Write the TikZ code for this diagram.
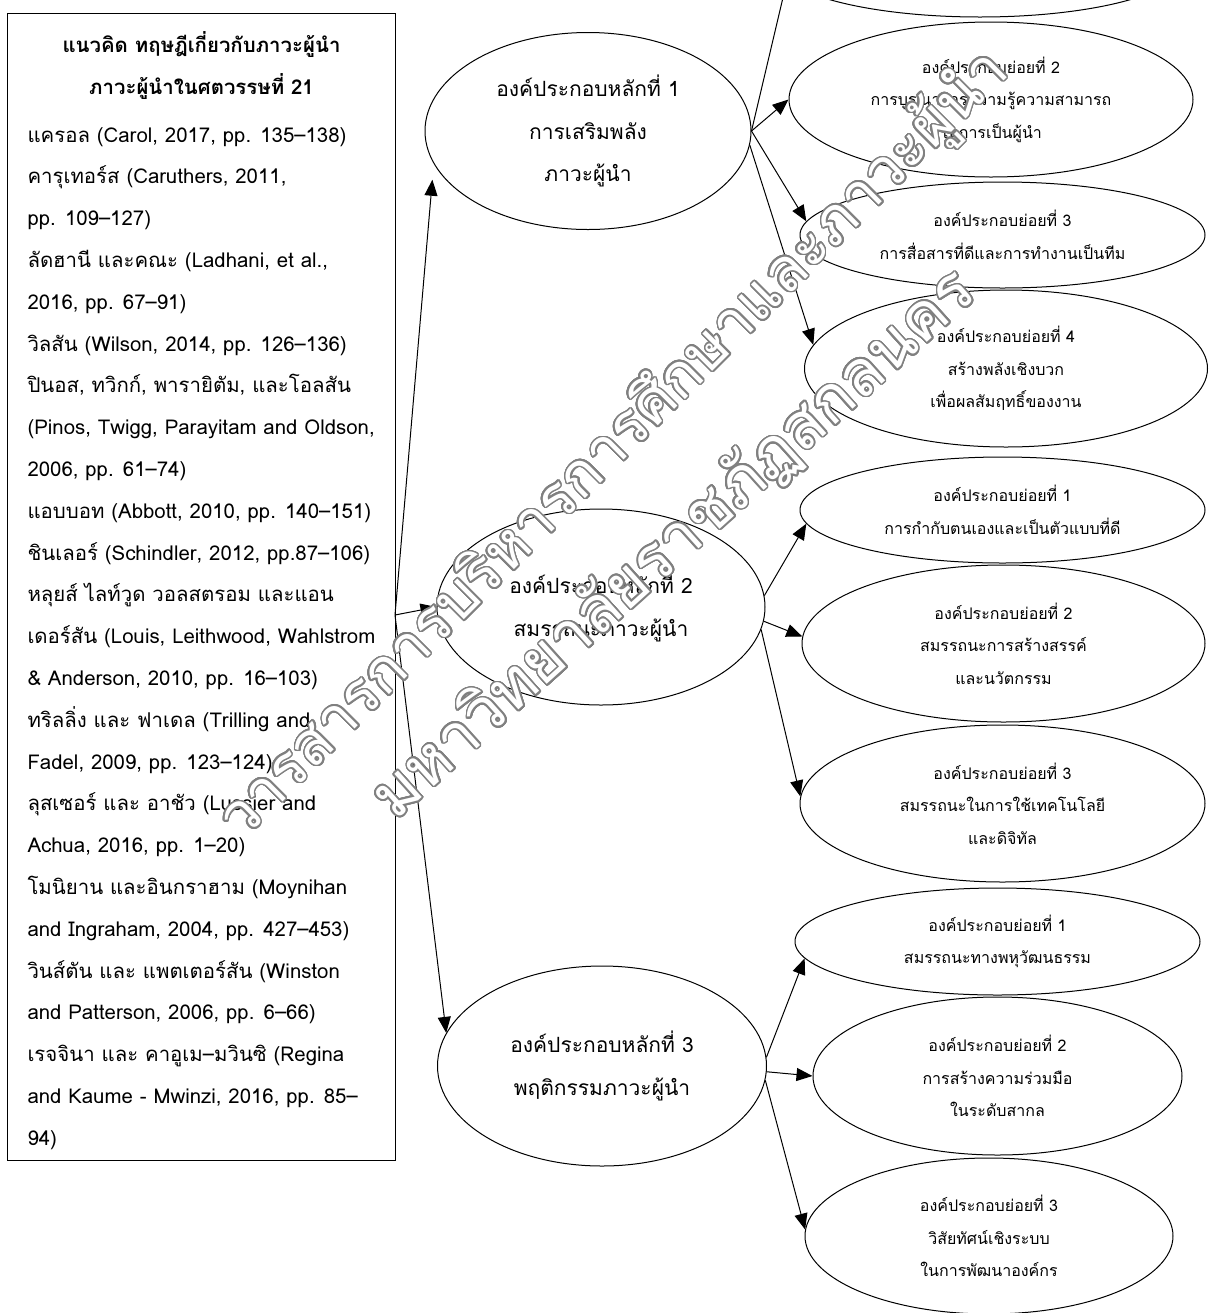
\documentclass[tikz,border=0pt]{standalone}
\usepackage{fontspec}
\newfontfamily\thaifont[Script=Thai]{Loma}
\usepackage[copies]{contour}
\contourlength{0.8pt}
\contournumber{32}
\usetikzlibrary{shapes.geometric,arrows.meta}

\begin{document}
\begin{tikzpicture}[x=0.5pt,y=-0.5pt,line width=0.5pt,
  every node/.style={font=\thaifont},
  mainel/.style={ellipse,draw,inner sep=0pt,align=center,font=\thaifont\fontsize{10.5}{21.2}\selectfont},
  subel/.style={ellipse,draw,inner sep=0pt,align=center,font=\thaifont\fontsize{8}{16.3}\selectfont},
  link/.style={-{Triangle[length=8pt,width=6.5pt]}},
  wmark/.style={text=white,font=\thaifont\fontsize{30}{30}\selectfont}]
\useasboundingbox (0,0) rectangle (1209,1313);
\clip (0,0) rectangle (1209,1313);
\node[draw,inner sep=0pt,anchor=north west,minimum width=193.9pt,minimum height=573.7pt] (lit) at (6.7,12.7) {};
\node[anchor=north west,inner sep=0pt,align=left,font=\thaifont\fontsize{10.2}{20.9}\selectfont] (refs) at (27,31) {%
\makebox[174pt][c]{\bfseries แนวคิด ทฤษฎีเกี่ยวกับภาวะผู้นำ}\\
\makebox[174pt][c]{\bfseries ภาวะผู้นำในศตวรรษที่ 21}\\[3pt]
แครอล (Carol, 2017, pp. 135–138)\\
คารุเทอร์ส (Caruthers, 2011,\\
pp. 109–127)\\
ลัดฮานี และคณะ (Ladhani, et al.,\\
2016, pp. 67–91)\\
วิลสัน (Wilson, 2014, pp. 126–136)\\
ปินอส, ทวิกก์, พารายิตัม, และโอลสัน\\
(Pinos, Twigg, Parayitam and Oldson,\\
2006, pp. 61–74)\\
แอบบอท (Abbott, 2010, pp. 140–151)\\
ชินเลอร์ (Schindler, 2012, pp.87–106)\\
หลุยส์ ไลท์วูด วอลสตรอม และแอน\\
เดอร์สัน (Louis, Leithwood, Wahlstrom\\
\& Anderson, 2010, pp. 16–103)\\
ทริลลิ่ง และ ฟาเดล (Trilling and\\
Fadel, 2009, pp. 123–124)\\
ลุสเซอร์ และ อาชัว (Lussier and\\
Achua, 2016, pp. 1–20)\\
โมนิยาน และอินกราฮาม (Moynihan\\
and Ingraham, 2004, pp. 427–453)\\
วินส์ตัน และ แพตเตอร์สัน (Winston\\
and Patterson, 2006, pp. 6–66)\\
เรจจินา และ คาอูเม–มวินซิ (Regina\\
and Kaume - Mwinzi, 2016, pp. 85–\\
94)};
\coordinate (fan) at (395,615);

\node[mainel,minimum width=163pt,minimum height=98.5pt] (m1) at (588,131) {องค์ประกอบหลักที่ 1\\การเสริมพลัง\\ภาวะผู้นำ};
\node[mainel,minimum width=164pt,minimum height=98pt] (m2) at (601,607) {องค์ประกอบหลักที่ 2\\สมรรถนะภาวะผู้นำ};
\node[mainel,minimum width=164.5pt,minimum height=100pt] (m3) at (602,1066) {องค์ประกอบหลักที่ 3\\พฤติกรรมภาวะผู้นำ};

\node[subel,minimum width=203pt,minimum height=53pt] (s10) at (980,-36) {};
\node[subel,minimum width=202pt,minimum height=77.5pt] (s12) at (991,99.5) {องค์ประกอบย่อยที่ 2\\การบูรณาการความรู้ความสามารถ\\ในการเป็นผู้นำ};
\node[subel,minimum width=202.5pt,minimum height=53pt] (s13) at (1002.5,235) {องค์ประกอบย่อยที่ 3\\การสื่อสารที่ดีและการทำงานเป็นทีม};
\node[subel,minimum width=201.5pt,minimum height=78.5pt] (s14) at (1006,368.5) {องค์ประกอบย่อยที่ 4\\สร้างพลังเชิงบวก\\เพื่อผลสัมฤทธิ์ของงาน};
\node[subel,minimum width=202.5pt,minimum height=53pt] (s21) at (1002.5,510) {องค์ประกอบย่อยที่ 1\\การกำกับตนเองและเป็นตัวแบบที่ดี};
\node[subel,minimum width=201.5pt,minimum height=78.5pt] (s22) at (1003.5,643.5) {องค์ประกอบย่อยที่ 2\\สมรรถนะการสร้างสรรค์\\และนวัตกรรม};
\node[subel,minimum width=202.5pt,minimum height=78.5pt] (s23) at (1002.5,803.5) {องค์ประกอบย่อยที่ 3\\สมรรถนะในการใช้เทคโนโลยี\\และดิจิทัล};
\node[subel,minimum width=202.5pt,minimum height=53.5pt] (s31) at (997.5,941.5) {องค์ประกอบย่อยที่ 1\\สมรรถนะทางพหุวัฒนธรรม};
\node[subel,minimum width=184.5pt,minimum height=79pt] (s32) at (997.5,1076) {องค์ประกอบย่อยที่ 2\\การสร้างความร่วมมือ\\ในระดับสากล};
\node[subel,minimum width=184pt,minimum height=78pt] (s33) at (989,1236) {องค์ประกอบย่อยที่ 3\\วิสัยทัศน์เชิงระบบ\\ในการพัฒนาองค์กร};

\draw[link,shorten >=8pt] (fan) -- (m1.192);
\draw[link] (fan) -- (m2.west);
\draw[link] (fan) -- (m3.168);
\draw[link] (m1.east) -- (s10.185);
\draw[link] (m1.east) -- (s12.west);
\draw[link] (m1.east) -- (s13.176);
\draw[link] (m1.355) -- (s14.173);
\draw[link] (m2.4) -- (s21.184);
\draw[link] (m2.355) -- (s22.178);
\draw[link] (m2.352) -- (s23.178);
\draw[link] (m3.3) -- (s31.185);
\draw[link] (m3.358) -- (s32.west);
\draw[link] (m3.355) -- (s33.178);

\node[wmark,rotate=45] (wm1) at (615,446) {\contour{gray}{วารสารการบริหารการศึกษาและภาวะผู้นำ}};
\node[wmark,rotate=42,font=\thaifont\fontsize{32}{32}\selectfont] (wm2) at (675,545) {\contour{gray}{มหาวิทยาลัยราชภัฏสกลนคร}};
\end{tikzpicture}
\end{document}
